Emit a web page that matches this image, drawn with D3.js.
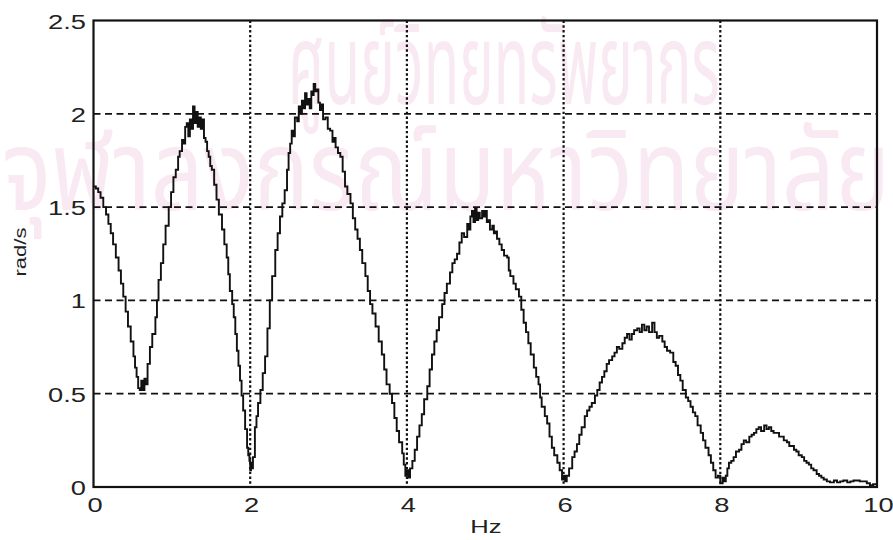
<!DOCTYPE html>
<html><head><meta charset="utf-8">
<script src="https://cdn.jsdelivr.net/npm/d3@7"></script>
<style>
html,body{margin:0;padding:0;background:#fff;}
svg{display:block;font-family:"Liberation Sans",Arial,sans-serif;}
</style></head>
<body><svg id="c" width="893" height="540"></svg>
<script>
const xTicks = [0,2,4,6,8,10];
const yTicks = [0,0.5,1,1.5,2,2.5];
const yTickLabels = ["0","0.5","1","1.5","2","2.5"];
const xLabel = "Hz";
const yLabel = "rad/s";
const watermark1 = "ศูนย์วิทยทรัพยากร";
const watermark2 = "จุฬาลงกรณ์มหาวิทยาลัย";

const freq = [0.00,0.03,0.06,0.09,0.125,0.16,0.19,0.22,0.25,0.285,0.32,0.35,0.38,0.41,0.44,0.475,0.51,0.53,0.55,0.57,0.59,0.61,0.63,0.65,0.665,0.69,0.72,0.75,0.79,0.81,0.83,0.86,0.89,0.92,0.96,0.99,1.02,1.05,1.08,1.10,1.13,1.15,1.17,1.19,1.21,1.23,1.25,1.27,1.29,1.31,1.33,1.35,1.37,1.39,1.41,1.43,1.45,1.47,1.49,1.51,1.54,1.57,1.60,1.64,1.67,1.70,1.72,1.74,1.77,1.79,1.81,1.83,1.85,1.87,1.89,1.91,1.935,1.96,1.975,1.99,2.00,2.01,2.02,2.035,2.06,2.08,2.10,2.13,2.16,2.19,2.22,2.25,2.28,2.32,2.35,2.38,2.41,2.44,2.47,2.49,2.51,2.53,2.55,2.57,2.60,2.62,2.64,2.66,2.68,2.70,2.72,2.74,2.76,2.78,2.80,2.81,2.83,2.85,2.87,2.89,2.91,2.93,2.96,2.99,3.02,3.05,3.07,3.09,3.12,3.15,3.18,3.21,3.24,3.28,3.31,3.34,3.37,3.40,3.43,3.47,3.50,3.53,3.56,3.60,3.64,3.68,3.71,3.74,3.78,3.81,3.84,3.87,3.90,3.94,3.96,3.98,4.00,4.02,4.04,4.07,4.10,4.13,4.16,4.19,4.22,4.26,4.29,4.32,4.35,4.38,4.41,4.45,4.48,4.51,4.55,4.58,4.61,4.64,4.67,4.70,4.73,4.77,4.79,4.81,4.83,4.85,4.87,4.89,4.91,4.93,4.96,4.98,5.00,5.02,5.04,5.06,5.09,5.11,5.13,5.15,5.18,5.21,5.24,5.28,5.30,5.32,5.36,5.39,5.43,5.46,5.49,5.52,5.55,5.58,5.62,5.65,5.68,5.70,5.72,5.76,5.79,5.82,5.85,5.88,5.92,5.95,5.98,6.00,6.02,6.04,6.07,6.11,6.14,6.17,6.20,6.23,6.27,6.30,6.33,6.36,6.40,6.43,6.46,6.49,6.52,6.55,6.58,6.62,6.65,6.68,6.71,6.75,6.78,6.81,6.84,6.87,6.90,6.94,6.97,7.00,7.03,7.06,7.09,7.13,7.16,7.19,7.22,7.26,7.29,7.32,7.36,7.40,7.43,7.46,7.49,7.52,7.56,7.59,7.62,7.65,7.68,7.71,7.75,7.78,7.81,7.85,7.88,7.91,7.94,7.97,8.00,8.03,8.05,8.07,8.09,8.11,8.14,8.17,8.20,8.24,8.27,8.30,8.33,8.37,8.40,8.43,8.46,8.49,8.52,8.56,8.59,8.62,8.65,8.68,8.72,8.75,8.78,8.81,8.85,8.88,8.91,8.94,8.97,9.00,9.04,9.07,9.10,9.13,9.16,9.19,9.23,9.26,9.29,9.32,9.36,9.40,9.45,9.49,9.53,9.57,9.62,9.66,9.70,9.74,9.78,9.83,9.87,9.91,9.95,10.0];

const radS = [1.61,1.60,1.58,1.55,1.50,1.46,1.41,1.36,1.30,1.23,1.16,1.09,1.02,0.94,0.86,0.78,0.70,0.64,0.59,0.53,0.52,0.57,0.52,0.58,0.55,0.66,0.75,0.82,0.91,1.00,1.11,1.20,1.30,1.40,1.50,1.58,1.66,1.70,1.77,1.80,1.86,1.84,1.93,1.95,1.88,1.97,1.92,2.04,1.95,2.01,1.93,1.98,1.92,1.97,1.87,1.85,1.80,1.77,1.72,1.70,1.62,1.54,1.46,1.38,1.30,1.23,1.14,1.05,0.98,0.91,0.82,0.73,0.65,0.57,0.49,0.41,0.31,0.21,0.17,0.14,0.09,0.13,0.10,0.16,0.32,0.38,0.45,0.52,0.61,0.70,0.85,1.00,1.13,1.27,1.36,1.45,1.52,1.59,1.70,1.79,1.84,1.91,1.88,1.98,1.96,2.04,2.00,2.07,2.03,2.11,2.05,2.08,2.03,2.12,2.10,2.16,2.12,2.13,2.06,2.02,2.05,1.97,1.98,1.92,1.91,1.85,1.87,1.82,1.79,1.77,1.69,1.61,1.57,1.52,1.44,1.38,1.33,1.27,1.20,1.13,1.05,0.98,0.93,0.86,0.78,0.71,0.63,0.55,0.50,0.45,0.37,0.30,0.24,0.18,0.12,0.06,0.09,0.05,0.10,0.14,0.20,0.27,0.33,0.39,0.47,0.54,0.63,0.71,0.78,0.84,0.91,0.98,1.04,1.09,1.15,1.20,1.22,1.25,1.31,1.36,1.34,1.41,1.38,1.45,1.48,1.42,1.49,1.43,1.47,1.44,1.48,1.45,1.48,1.42,1.43,1.38,1.40,1.36,1.37,1.33,1.30,1.27,1.24,1.23,1.16,1.13,1.09,1.06,1.02,0.95,0.88,0.83,0.77,0.71,0.64,0.59,0.55,0.48,0.43,0.38,0.34,0.27,0.21,0.17,0.13,0.09,0.04,0.06,0.03,0.06,0.10,0.16,0.19,0.23,0.28,0.32,0.38,0.41,0.43,0.45,0.49,0.52,0.56,0.59,0.62,0.66,0.68,0.70,0.72,0.75,0.74,0.77,0.80,0.82,0.79,0.82,0.84,0.85,0.83,0.87,0.84,0.86,0.83,0.88,0.83,0.80,0.81,0.78,0.75,0.73,0.72,0.67,0.65,0.60,0.57,0.52,0.48,0.46,0.43,0.40,0.38,0.33,0.29,0.25,0.21,0.17,0.13,0.09,0.05,0.06,0.02,0.05,0.03,0.06,0.10,0.13,0.14,0.16,0.19,0.20,0.23,0.25,0.24,0.27,0.28,0.29,0.31,0.32,0.30,0.33,0.31,0.32,0.30,0.29,0.29,0.27,0.27,0.25,0.24,0.22,0.22,0.20,0.19,0.17,0.16,0.14,0.13,0.12,0.10,0.09,0.07,0.06,0.05,0.04,0.03,0.025,0.035,0.025,0.03,0.035,0.025,0.03,0.035,0.035,0.03,0.03,0.02,0.01,0.015,0.005];

const svg = d3.select("#c");
const M = {left:93.5, right:877, top:20.5, bottom:487};
const x = d3.scaleLinear().domain([0,10]).range([M.left, M.right]);
const y = d3.scaleLinear().domain([0,2.5]).range([M.bottom, M.top]);

// watermark
const wm = svg.append("g").attr("fill","#f8e9f2").style("font-family","'Noto Sans Thai','Loma','Garuda','Norasi','DejaVu Sans',sans-serif");
wm.append("text").attr("x",288).attr("y",104).attr("font-size",112)
  .attr("textLength",432).attr("lengthAdjust","spacingAndGlyphs").text(watermark1);
wm.append("text").attr("x",2).attr("y",210).attr("font-size",112)
  .attr("textLength",888).attr("lengthAdjust","spacingAndGlyphs").text(watermark2);

// horizontal grid (dashed)
svg.append("g").selectAll("line").data(yTicks.filter(d=>d>0&&d<2.5)).join("line")
  .attr("x1",M.left).attr("x2",M.right).attr("y1",d=>y(d)).attr("y2",d=>y(d))
  .attr("stroke","#111").attr("stroke-width",1.8).attr("stroke-dasharray","7,4.5");
// vertical grid (dotted)
svg.append("g").selectAll("line").data(xTicks.filter(d=>d>0&&d<10)).join("line")
  .attr("x1",d=>x(d)).attr("x2",d=>x(d)).attr("y1",M.top).attr("y2",M.bottom)
  .attr("stroke","#111").attr("stroke-width",2.2).attr("stroke-dasharray","2.4,2.4");

// data line
svg.append("path").datum(freq.map((f,i)=>[f,radS[i]]))
  .attr("fill","none").attr("stroke","#111").attr("stroke-width",1.9).attr("stroke-linejoin","miter")
  .attr("d",d3.line().x(d=>x(d[0])).y(d=>y(d[1])).curve(d3.curveStepAfter));

// frame
svg.append("rect").attr("x",M.left).attr("y",M.top).attr("width",M.right-M.left).attr("height",M.bottom-M.top)
  .attr("fill","none").attr("stroke","#111").attr("stroke-width",2.2);

// x axis labels
const ax = svg.append("g").attr("transform",`translate(0,${M.bottom})`)
  .call(d3.axisBottom(x).tickValues(xTicks).tickSize(0).tickFormat(d3.format("d")));
ax.select(".domain").remove();
ax.selectAll(".tick text").attr("font-size",21).attr("fill","#222").attr("dy",null).attr("y",null)
  .attr("text-anchor","middle").attr("transform","translate(1,25) scale(1.3,1)");

// y axis labels
const ay = svg.append("g").attr("transform",`translate(${M.left},0)`)
  .call(d3.axisLeft(y).tickValues(yTicks).tickSize(0).tickFormat((d,i)=>yTickLabels[i]));
ay.select(".domain").remove();
ay.selectAll(".tick text").attr("x",null).attr("dy","0.36em").attr("font-size",21).attr("fill","#222")
  .attr("text-anchor","end").attr("transform","translate(-7.5,0) scale(1.3,1)");

svg.append("text").attr("transform","translate(486,533) scale(1.35,1)").attr("text-anchor","middle")
  .attr("font-size",19).attr("fill","#222").text(xLabel);
svg.append("text").attr("transform","translate(26,252) rotate(-90) scale(1.3,1)").attr("text-anchor","middle")
  .attr("font-size",17).attr("fill","#222").text(yLabel);
</script></body></html>
